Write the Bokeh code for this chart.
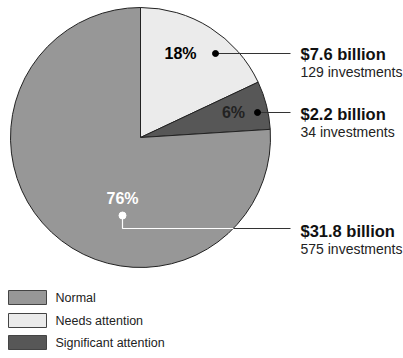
import math
from bokeh.plotting import figure
from bokeh.models import Range1d, ColumnDataSource
from bokeh.core.properties import value
from bokeh.embed import file_html
from bokeh.resources import INLINE

# ---- data ----
categories = ["Normal", "Needs attention", "Significant attention"]
shares = [76, 18, 6]
amounts = ["$31.8 billion", "$7.6 billion", "$2.2 billion"]
counts = ["575 investments", "129 investments", "34 investments"]
colors = ["#979797", "#ebebeb", "#575757"]

W, H = 403, 358
def Y(py):
    return H - py

p = figure(width=W, height=H, output_backend="svg", toolbar_location=None,
           x_range=Range1d(0, W), y_range=Range1d(0, H), min_border=0)
p.axis.visible = False
p.grid.visible = False
p.outline_line_color = None
p.background_fill_color = "white"

cx, cy, r = 140, Y(137), 130

# Slices: Needs attention starts at 12 o'clock going clockwise, then Significant, then Normal
order = [1, 2, 0]
starts, ends, cols = [], [], []
ang = 90.0
for i in order:
    sweep = shares[i] / 100 * 360
    end_a = ang
    start_a = ang - sweep
    starts.append(math.radians(start_a))
    ends.append(math.radians(end_a))
    cols.append(colors[i])
    ang = start_a

src = ColumnDataSource(dict(start=starts, end=ends, color=cols))
p.wedge(x=cx, y=cy, radius=r, start_angle="start", end_angle="end",
        direction="anticlock", fill_color="color", line_color="#222222",
        line_width=1, source=src)

# connectors
lc = "#333333"
p.line([215, 290], [Y(53), Y(53)], line_color=lc, line_width=1)
p.line([257, 290], [Y(112), Y(112)], line_color=lc, line_width=1)
p.line([122, 122, 233], [Y(215), Y(228), Y(228)], line_color="white", line_width=1.2)
p.line([233, 290], [Y(228), Y(228)], line_color=lc, line_width=1)
p.scatter([215, 257], [Y(53), Y(112)], size=6, fill_color="black", line_color="black")
p.scatter([122], [Y(215)], size=7, fill_color="white", line_color="white")

# percentage labels
pct = [f"{s}%" for s in shares]
p.text(x=[122, 180, 233], y=[Y(198), Y(53), Y(112)],
       text=[pct[0], pct[1], pct[2]],
       text_color=["white", "black", "#222222"],
       text_font=value("Liberation Sans"), text_font_style="bold",
       text_font_size="16px", text_align="center", text_baseline="middle")

# amounts
p.text(x=[300, 300, 300], y=[Y(230), Y(53), Y(113)], text=amounts,
       text_font=value("Liberation Sans"), text_font_style="bold",
       text_font_size="16.5px", text_color="#111111",
       text_align="left", text_baseline="middle")
p.text(x=[300, 300, 300], y=[Y(248), Y(71), Y(131)], text=counts,
       text_font=value("Liberation Sans"), text_font_size="14px",
       text_color="#222222", text_align="left", text_baseline="middle")

# legend
leg_y = [297, 320, 342]
p.rect(x=[27] * 3, y=[Y(v) for v in leg_y], width=38, height=14,
       fill_color=colors, line_color="#444444", line_width=1)
p.text(x=[55] * 3, y=[Y(v) for v in leg_y], text=categories,
       text_font=value("Liberation Sans"), text_font_size="12.5px",
       text_color="#222222", text_align="left", text_baseline="middle")

open("out.html", "w").write(file_html(p, INLINE))
